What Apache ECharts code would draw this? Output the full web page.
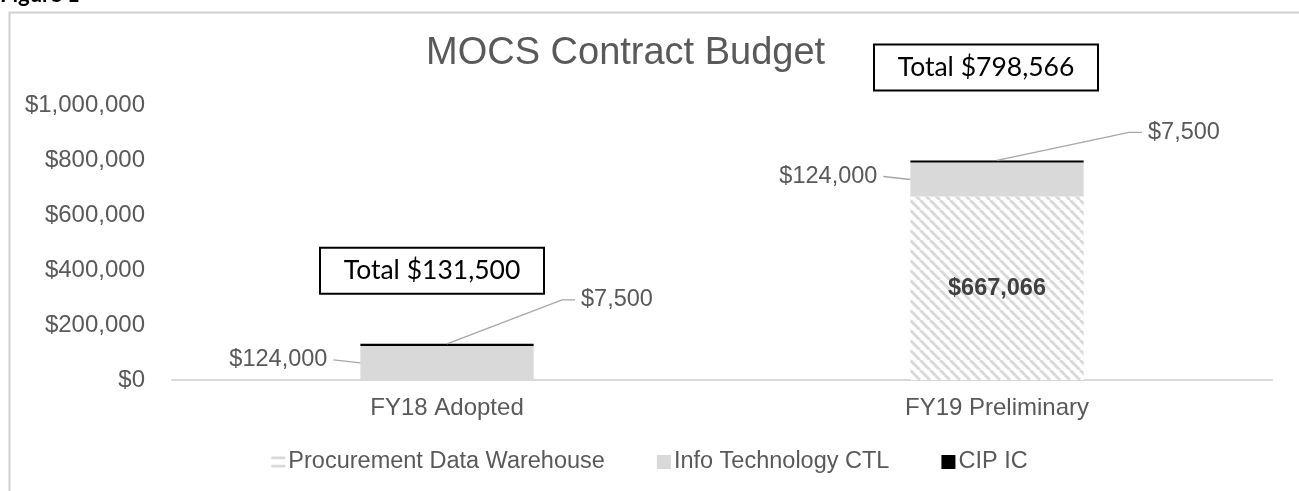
<!DOCTYPE html>
<html>
<head>
<meta charset="utf-8">
<script src="https://cdn.jsdelivr.net/npm/echarts@6/dist/echarts.min.js"></script>
<style>
    html, body { margin: 0; padding: 0; background: #fff; }
    #chart { width: 1299px; height: 491px; }
</style>
</head>
<body>
<div id="chart"></div>
<script>
// chart data
var categories = ['FY18 Adopted', 'FY19 Preliminary'];
var procurement = [0, 667066];
var infoTech = [124000, 124000];
var cipIc = [7500, 7500];
var yTicks = [0, 200000, 400000, 600000, 800000, 1000000];

// note placement (pixels, relative to top of each stack)
var noteDx = [115, 132], noteDy = [-44, -28];
var boxDx = [-15, -11], boxDy = [-73, -93];

var totals = categories.map(function (c, i) { return procurement[i] + infoTech[i] + cipIc[i]; });

function money(v) {
    return '$' + Math.round(v).toString().replace(/\B(?=(\d{3})+(?!\d))/g, ',');
}

// hatch pattern for the warehouse series
function makeHatch() {
    var c = document.createElement('canvas');
    c.width = 10; c.height = 10;
    var ctx = c.getContext('2d');
    ctx.fillStyle = '#fff';
    ctx.fillRect(0, 0, 10, 10);
    ctx.strokeStyle = '#d9d9d9';
    ctx.lineWidth = 3;
    for (let o of [-10, 0, 10]) {
        ctx.beginPath();
        ctx.moveTo(o, 0);
        ctx.lineTo(o + 10, 10);
        ctx.stroke();
    }
    return c;
}

var BAR_RATIO = 0.315;
var TXT = '#595959';
var FONT = 'Arial, "Liberation Sans", sans-serif';
var LBL = '23.5px ' + FONT;

function renderNotes(params, api) {
    var i = api.value(0);
    var total = api.value(1), it = api.value(2), below = api.value(3);
    var top = api.coord([i, total]);
    var mid = api.coord([i, below + it / 2]);
    var half = api.size([1, 0])[0] * BAR_RATIO / 2;
    var left = top[0] - half;
    var ex = top[0] + noteDx[i], ey = top[1] + noteDy[i];
    var bx = top[0] + boxDx[i], by = top[1] + boxDy[i];
    return {
        type: 'group',
        children: [
            { type: 'line', shape: { x1: left - 27, y1: mid[1] - 3, x2: left, y2: mid[1] },
              style: { stroke: '#a6a6a6', lineWidth: 1.3 } },
            { type: 'text', style: { x: left - 33, y: mid[1] - 3, text: money(it), align: 'right', verticalAlign: 'middle',
              fill: TXT, font: LBL } },
            { type: 'polyline', shape: { points: [[top[0], top[1]], [ex, ey], [ex + 13, ey]] },
              style: { stroke: '#a6a6a6', lineWidth: 1.3, fill: null } },
            { type: 'text', style: { x: ex + 19, y: ey, text: money(api.value(4)), align: 'left', verticalAlign: 'middle',
              fill: TXT, font: LBL } },
            { type: 'rect', shape: { x: bx - 112, y: by - 23, width: 224, height: 46 },
              style: { fill: '#fff', stroke: '#000', lineWidth: 2 } },
            { type: 'text', style: { x: bx, y: by, text: 'Total ' + money(total), align: 'center', verticalAlign: 'middle',
              fill: '#000', font: '26.5px Lato, "Open Sans", sans-serif' } }
        ]
    };
}

var chart = echarts.init(document.getElementById('chart'));

var option = {
    backgroundColor: '#fff',
    animation: false,
    title: {
        text: 'MOCS Contract Budget',
        left: 421,
        top: 30,
        textStyle: { color: TXT, fontSize: 38, fontWeight: 'normal', fontFamily: FONT }
    },
    graphic: [
        { type: 'rect', left: 7, top: 10, shape: { width: 1310, height: 500 },
          style: { fill: null, stroke: '#d0d0d0', lineWidth: 2 }, z: -1 },
        { type: 'text', left: 0, top: -16, style: { text: 'Figure 1', fill: '#000', font: 'bold 22px Lato, sans-serif' } }
    ],
    legend: {
        data: [
            { name: 'Procurement Data Warehouse', icon: 'path://M0,0H10V2H0Z M0,6H10V8H0Z', itemStyle: { color: '#d9d9d9' } },
            'Info Technology CTL',
            'CIP IC'
        ],
        bottom: 12,
        left: 'center',
        itemWidth: 14,
        itemHeight: 14,
        itemGap: 52,
        icon: 'rect',
        textStyle: { color: TXT, fontSize: 23.5, fontFamily: FONT, padding: [0, 0, 0, -2] }
    },
    grid: { left: 172, right: 27, top: 105, bottom: 111, containLabel: false },
    xAxis: {
        type: 'category',
        data: categories,
        axisLine: { lineStyle: { color: '#d9d9d9', width: 2 } },
        axisTick: { show: false },
        axisLabel: { color: TXT, fontSize: 24, fontFamily: FONT, margin: 16 }
    },
    yAxis: {
        type: 'value',
        min: yTicks[0],
        max: yTicks[yTicks.length - 1],
        interval: yTicks[1] - yTicks[0],
        splitLine: { show: false },
        axisLine: { show: false },
        axisLabel: { color: TXT, fontSize: 24, fontFamily: FONT, margin: 27, formatter: money }
    },
    series: [
        {
            name: 'Procurement Data Warehouse',
            type: 'bar',
            stack: 'budget',
            barWidth: (BAR_RATIO * 100) + '%',
            data: procurement,
            itemStyle: { color: { image: makeHatch(), repeat: 'repeat' } },
            label: {
                show: true,
                position: 'inside',
                color: '#404040',
                fontSize: 23.5,
                fontWeight: 'bold',
                fontFamily: FONT,
                formatter: function (p) { return p.value ? money(p.value) : ''; }
            }
        },
        {
            name: 'Info Technology CTL',
            type: 'bar',
            stack: 'budget',
            data: infoTech,
            itemStyle: { color: '#d9d9d9' }
        },
        {
            name: 'CIP IC',
            type: 'bar',
            stack: 'budget',
            data: cipIc,
            itemStyle: { color: '#000' }
        },
        {
            name: 'notes',
            type: 'custom',
            renderItem: renderNotes,
            data: categories.map(function (c, i) { return [i, totals[i], infoTech[i], procurement[i], cipIc[i]]; }),
            z: 5,
            silent: true
        }
    ]
};

chart.setOption(option);
</script>
</body>
</html>
